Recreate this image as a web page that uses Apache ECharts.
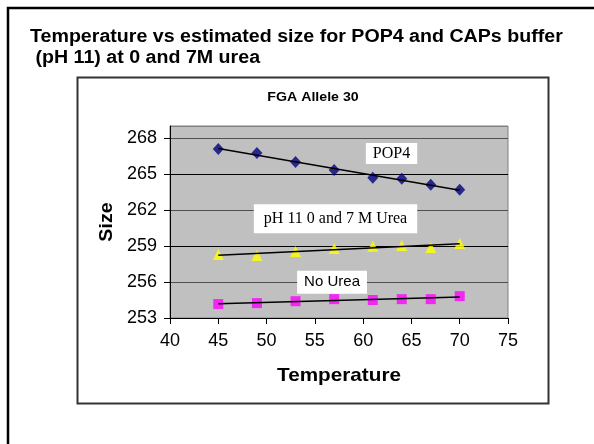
<!DOCTYPE html>
<html>
<head>
<meta charset="utf-8">
<script src="https://cdn.jsdelivr.net/npm/echarts@6/dist/echarts.min.js"></script>
<style>
  html, body { margin: 0; padding: 0; background: #fff; }
  #chart { width: 594px; height: 444px; }
</style>
</head>
<body>
<div id="chart"></div>
<script>
// Temperature (°C) at which each sample was run
const temperatures = [45, 49, 53, 57, 61, 64, 67, 70];

// Estimated allele size for each buffer condition
const pop4Sizes   = [267.08, 266.75, 266.0, 265.34, 264.68, 264.6, 264.1, 263.69];
const ph11Sizes   = [258.3, 258.2, 258.55, 258.8, 258.97, 259.05, 258.88, 259.2];
const noUreaSizes = [254.16, 254.24, 254.4, 254.57, 254.5, 254.57, 254.57, 254.82];

// Axis ticks
const xTicks = { min: 40, max: 75, step: 5 };
const yTicks = { min: 253, max: 269, step: 3 };

// Series labels, anchored in data coordinates [temperature, size]
const seriesNotes = [
  { text: 'POP4', at: [62.94, 266.71] },
  { text: 'pH 11 0 and 7 M Urea', at: [57.14, 261.28] },
  { text: 'No Urea', at: [56.78, 255.98] }
];

const titleLines = ['Temperature vs estimated size for POP4 and CAPs buffer', ' (pH 11) at 0 and 7M urea'];
const chartTitle = 'FGA Allele 30';
const xName = 'Temperature';
const yName = 'Size';

const SANS = '"Liberation Sans", Arial, sans-serif';
const SERIF = '"Liberation Serif", "Times New Roman", serif';
const STRETCH = 1.09; // text is drawn slightly wide

// Least-squares linear trend through a series, evaluated at the first and last temperature
function trend(xs, ys) {
  const n = xs.length;
  const mx = xs.reduce((a, b) => a + b, 0) / n;
  const my = ys.reduce((a, b) => a + b, 0) / n;
  let sxy = 0, sxx = 0;
  for (let i = 0; i < n; i++) {
    sxy += (xs[i] - mx) * (ys[i] - my);
    sxx += (xs[i] - mx) * (xs[i] - mx);
  }
  const slope = sxy / sxx;
  const x0 = xs[0], x1 = xs[n - 1];
  return [[x0, my + slope * (x0 - mx)], [x1, my + slope * (x1 - mx)]];
}

function pairs(xs, ys) { return xs.map((x, i) => [x, ys[i]]); }

function noteMark(note, font, size, padding) {
  return {
    symbol: 'rect',
    symbolSize: 0,
    silent: true,
    data: [{
      coord: note.at,
      label: {
        show: true,
        position: 'inside',
        formatter: note.text,
        color: '#000',
        fontFamily: font,
        fontSize: size,
        backgroundColor: '#fff',
        padding: padding
      }
    }]
  };
}

const chart = echarts.init(document.getElementById('chart'), null, { renderer: 'canvas' });

const pointSeries = [
  { name: 'POP4', ys: pop4Sizes, symbol: 'diamond', size: [11, 12], color: '#000080',
    note: noteMark(seriesNotes[0], SERIF, 16, [3, 7, 2, 7]) },
  { name: 'pH 11 0 and 7 M Urea', ys: ph11Sizes, symbol: 'triangle', size: 11, color: '#FFFF00',
    note: noteMark(seriesNotes[1], SERIF, 16, [7, 10, 6, 10]) },
  { name: 'No Urea', ys: noUreaSizes, symbol: 'rect', size: 10, color: '#FF00FF',
    note: noteMark(seriesNotes[2], SANS, 15, [4, 7, 4, 7]) }
];

const series = [];
pointSeries.forEach(s => {
  series.push({
    name: s.name,
    type: 'scatter',
    data: pairs(temperatures, s.ys),
    symbol: s.symbol,
    symbolSize: s.size,
    itemStyle: { color: s.color },
    z: 3,
    markPoint: s.note
  });
  series.push({
    name: s.name + ' trend',
    type: 'line',
    data: trend(temperatures, s.ys),
    showSymbol: false,
    symbol: 'none',
    lineStyle: { color: '#000', width: 1.5 },
    z: 4,
    silent: true
  });
});

function label(text, x, y, font, opts) {
  return Object.assign({
    type: 'text', x: x, y: y, scaleX: STRETCH, silent: true,
    style: { text: text, font: font, fill: '#000', textAlign: 'left', textVerticalAlign: 'middle' }
  }, opts || {});
}

chart.setOption({
  animation: false,
  backgroundColor: '#fff',
  grid: {
    left: 170, top: 126, width: 338, height: 192,
    show: true, backgroundColor: '#C0C0C0', borderColor: '#808080', borderWidth: 1
  },
  xAxis: {
    type: 'value',
    min: xTicks.min, max: xTicks.max, interval: xTicks.step,
    axisLine: { show: true, onZero: false, lineStyle: { color: '#000', width: 1 } },
    axisTick: { show: true, inside: false, length: 6, lineStyle: { color: '#000' } },
    axisLabel: { color: '#000', fontFamily: SANS, fontSize: 18, margin: 14 },
    splitLine: { show: false }
  },
  yAxis: {
    type: 'value',
    min: yTicks.min, max: yTicks.max, interval: yTicks.step,
    axisLine: { show: true, onZero: false, lineStyle: { color: '#000', width: 1 } },
    axisTick: { show: true, inside: false, length: 6, lineStyle: { color: '#000' } },
    axisLabel: { color: '#000', fontFamily: SANS, fontSize: 18, margin: 13, showMaxLabel: false },
    splitLine: {
      show: true,
      lineStyle: { color: ['#000', '#505050', '#000', '#505050', '#000', '#505050', '#808080'], width: 1 }
    }
  },
  graphic: [
    // outer frame
    { type: 'rect', shape: { x: 8, y: 8, width: 700, height: 600 },
      style: { fill: 'none', stroke: '#000', lineWidth: 2.5 }, silent: true },
    // chart frame
    { type: 'rect', shape: { x: 77.5, y: 77.5, width: 471, height: 326 },
      style: { fill: 'none', stroke: '#333', lineWidth: 2 }, silent: true },
    label(titleLines[0], 30, 37, 'bold 18px ' + SANS),
    label(titleLines[1], 30, 58, 'bold 18px ' + SANS),
    label(chartTitle, 313, 97, 'bold 13px ' + SANS,
      { style: { text: chartTitle, font: 'bold 13px ' + SANS, fill: '#000', textAlign: 'center', textVerticalAlign: 'middle' } }),
    label(yName, 107, 222, 'bold 18px ' + SANS,
      { rotation: Math.PI / 2, style: { text: yName, font: 'bold 18px ' + SANS, fill: '#000', textAlign: 'center', textVerticalAlign: 'middle' } }),
    label(xName, 339, 376, 'bold 19px ' + SANS,
      { style: { text: xName, font: 'bold 19px ' + SANS, fill: '#000', textAlign: 'center', textVerticalAlign: 'middle' } })
  ],
  series: series
});
</script>
</body>
</html>
